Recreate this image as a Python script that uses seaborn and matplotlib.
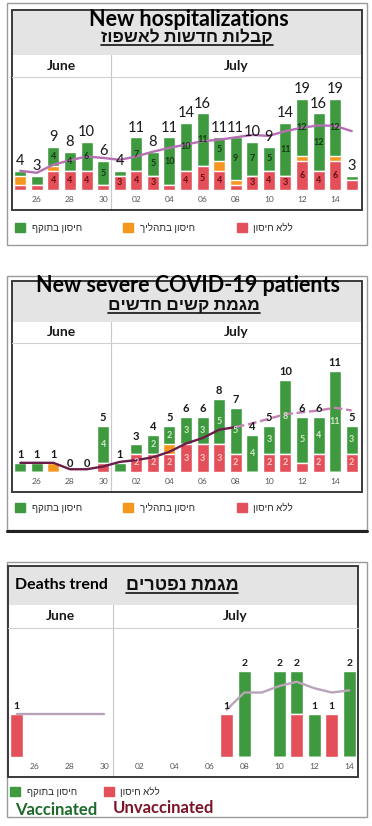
import numpy as np
import pandas as pd
import matplotlib.pyplot as plt
import matplotlib.patches as mpatches
from matplotlib.lines import Line2D
import seaborn as sns

sns.set_theme(style='white')
plt.rcParams['font.family'] = ['Lato', 'Liberation Sans', 'DejaVu Sans']

W, H = 372, 826

GREEN = '#3f9a3f'
ORANGE = '#f5961e'
RED = '#e4505a'

# days: 25 June .. 15 July
june_days = ['25', '26', '27', '28', '29', '30']
july_days = ['01', '02', '03', '04', '05', '06', '07', '08', '09', '10',
             '11', '12', '13', '14', '15']
days = ['06-' + d for d in june_days] + ['07-' + d for d in july_days]
tick_days = ['06-26', '06-28', '06-30', '07-02', '07-04', '07-06',
             '07-08', '07-10', '07-12', '07-14']
tick_labels = ['26', '28', '30', '02', '04', '06', '08', '10', '12', '14']

# new hospitalizations
hosp_vacc = [1, 2, 4, 4, 6, 5, 1, 7, 5, 10, 10, 11, 5, 9, 7, 5, 11, 12, 12, 12, 1]
hosp_partial = [2, 0, 1, 0, 0, 0, 0, 0, 0, 0, 0, 0, 2, 1, 0, 0, 0, 1, 0, 1, 0]
hosp_unvacc = [1, 1, 4, 4, 4, 1, 3, 4, 3, 1, 4, 5, 4, 1, 3, 4, 3, 6, 4, 6, 2]
hosp_trend = [4.0, 3.6, 5.3, 6.2, 7.0, 6.7, 6.3, 7.0, 8.0, 8.8, 9.5, 10.2, 10.5,
              11.0, 11.5, 11.3, 12.3, 13.0, 13.5, 13.4, 12.3]

# new severe patients
sev_vacc = [1, 1, 0, 0, 0, 4, 1, 1, 2, 2, 3, 3, 5, 5, 4, 3, 8, 5, 4, 11, 3]
sev_partial = [0, 0, 1, 0, 0, 0, 0, 0, 0, 1, 0, 0, 0, 0, 0, 0, 0, 0, 0, 0, 0]
sev_unvacc = [0, 0, 0, 0, 0, 1, 0, 2, 2, 2, 3, 3, 3, 2, 0, 2, 2, 1, 2, 0, 2]
sev_trend = [1.0, 1.0, 1.0, 0.3, 0.3, 0.6, 1.1, 1.3, 1.6, 2.2, 3.1, 3.7, 4.6,
             4.9, 5.3, 5.8, 6.3, 6.5, 6.7, 7.0, 6.7]

# deaths (25 June .. 14 July)
death_days = days[:20]
death_vacc = [0, 0, 0, 0, 0, 0, 0, 0, 0, 0, 0, 0, 0, 2, 0, 2, 1, 1, 0, 2]
death_partial = [0] * 20
death_unvacc = [1, 0, 0, 0, 0, 0, 0, 0, 0, 0, 0, 0, 1, 0, 0, 0, 1, 0, 1, 0]
death_trend = [1, 1, 1, 1, 1, 1, np.nan, np.nan, np.nan, np.nan, np.nan, np.nan,
               1.1, 1.5, 1.5, 1.65, 1.75, 1.6, 1.5, 1.55]

legend_labels = ['חיסון בתוקף', 'חיסון בתהליך', 'ללא חיסון']


def rtl(s):
    # matplotlib has no bidi support
    return s[::-1]


def fx(x):
    return x / W


def fy(y):
    return 1 - y / H


fig = plt.figure(figsize=(W / 100, H / 100), dpi=100)
fig.patch.set_facecolor('white')


def rect(l, t, r, b, fc='none', ec='none', lw=1.0):
    fig.add_artist(mpatches.Rectangle((fx(l), fy(b)), (r - l) / W, (b - t) / H,
                                      transform=fig.transFigure, fc=fc, ec=ec, lw=lw))


def hline(l, r, y, color='#d0d0d0', lw=0.8):
    fig.add_artist(Line2D([fx(l), fx(r)], [fy(y), fy(y)], transform=fig.transFigure,
                          color=color, lw=lw))


def panel(box, dlist, vacc, partial, unvacc, trend, ymax, top_fs, top_weight,
          seg_thr, seg_colors, show_zero, line_parts):
    l, r, head_t, ax_t, ax_b, frame_b = box
    ax = fig.add_axes([fx(l), fy(ax_b), (r - l) / W, (ax_b - ax_t) / H])
    df = pd.DataFrame({'day': dlist, 'vacc': vacc, 'partial': partial, 'unvacc': unvacc})
    df['low'] = df['unvacc'] + df['partial']
    df['total'] = df['low'] + df['vacc']
    n = len(df)

    for col, c in [('total', GREEN), ('low', ORANGE), ('unvacc', RED)]:
        sns.barplot(data=df, x='day', y=col, order=dlist, color=c, saturation=1,
                    width=0.72, errorbar=None, ax=ax, zorder=2)

    # trend line
    for start, stop, color, ls in line_parts:
        part = pd.DataFrame({'x': np.arange(start, stop), 'y': trend[start:stop]})
        sns.lineplot(data=part, x='x', y='y', color=color, lw=1.7, ls=ls, ax=ax, zorder=3)

    labels = [str(t) if (t > 0 or show_zero) else '' for t in df['total']]
    ax.bar_label(ax.containers[0], labels=labels, padding=2, fontsize=top_fs,
                 fontweight=top_weight, color='#1a1a1a', zorder=5)

    for i, row in df.iterrows():
        if row['vacc'] >= seg_thr:
            ax.text(i, row['low'] + row['vacc'] / 2, str(row['vacc']), ha='center',
                    va='center', fontsize=6.5, fontweight='bold', color=seg_colors[0], zorder=4)
        if row['unvacc'] >= seg_thr:
            ax.text(i, row['unvacc'] / 2, str(row['unvacc']), ha='center',
                    va='center', fontsize=6.5, fontweight='bold', color=seg_colors[1], zorder=4)

    ax.set_xlim(-0.5, n - 0.5)
    ax.set_ylim(0, ymax)
    ax.set_xticks([dlist.index(d) for d in tick_days])
    ax.set_xticklabels(tick_labels, fontsize=6, color='#555555')
    ax.tick_params(axis='x', length=0, pad=4)
    ax.set_yticks([])
    ax.set_xlabel('')
    ax.set_ylabel('')
    for s in ax.spines.values():
        s.set_visible(False)
    ax.set_facecolor('none')

    ax_h = ax_b - ax_t
    ax.axvline(5.5, ymin=-(frame_b - ax_b) / ax_h, ymax=1 + (ax_t - head_t) / ax_h,
               color='#c8c8c8', lw=0.8, clip_on=False, zorder=1)
    tr = ax.get_xaxis_transform()
    mid = 1 + (ax_t - head_t) / 2 / ax_h
    ax.text(2.5, mid, 'June', transform=tr, ha='center', va='center',
            fontsize=10, fontweight='bold', color='#1a1a1a')
    ax.text((5.5 + n - 0.5) / 2, mid, 'July', transform=tr, ha='center', va='center',
            fontsize=10, fontweight='bold', color='#1a1a1a')
    hline(l, r, ax_t)
    return ax


def legend(x, y, handles, labels, colspace):
    fig.legend(handles=handles, labels=labels, loc='center left',
               bbox_to_anchor=(fx(x), fy(y)), ncol=len(handles), frameon=False,
               fontsize=7, handlelength=1.0, handleheight=1.0, handletextpad=0.7,
               columnspacing=colspace, borderaxespad=0, borderpad=0)


patches = [mpatches.Patch(color=GREEN), mpatches.Patch(color=ORANGE), mpatches.Patch(color=RED)]
underlined = []

# ---- panel 1 ----
rect(7, 3, 367, 245, ec='#9a9a9a', lw=1.0)
rect(12, 10, 362, 55, fc='#e4e4e4')
rect(12, 10, 362, 210, ec='#3a3a3a', lw=1.4)
fig.text(fx(189), fy(19), 'New hospitalizations', ha='center', va='center',
         fontsize=15.5, fontweight='bold', color='black')
underlined.append(fig.text(fx(187), fy(37), rtl('קבלות חדשות לאשפוז'), ha='center',
                           va='center', fontsize=12.5, fontweight='bold', color='#111111'))
panel((12, 360, 55, 77, 190, 210), days, hosp_vacc, hosp_partial, hosp_unvacc,
      hosp_trend, 23.6, 10.5, 'normal', 3, ('#173a17', '#6e0d12'), False,
      [(0, 21, '#b56fb3', '-')])
legend(15, 228, patches, [rtl(s) for s in legend_labels], 4.3)

# ---- panel 2 ----
rect(7, 276, 367, 530, ec='#9a9a9a', lw=1.0)
hline(7, 367, 531, color='#222222', lw=2.2)
rect(12, 281, 362, 322, fc='#e4e4e4')
rect(12, 281, 362, 492, ec='#3a3a3a', lw=1.4)
fig.text(fx(188), fy(285), 'New severe COVID-19 patients', ha='center', va='center',
         fontsize=15.5, fontweight='bold', color='black')
underlined.append(fig.text(fx(184), fy(305), rtl('מגמת קשים חדשים'), ha='center',
                           va='center', fontsize=12.5, fontweight='bold', color='#111111'))
panel((12, 360, 322, 343, 472, 492), days, sev_vacc, sev_partial, sev_unvacc,
      sev_trend, 14.05, 8, 'bold', 2, ('#cfe8c8', '#f7cccc'), True,
      [(0, 14, '#6a1d48', '-'), (13, 21, '#c77fb7', '--')])
legend(15, 508, patches, [rtl(s) for s in legend_labels], 4.3)

# ---- panel 3 ----
rect(7, 562, 367, 817, ec='#9a9a9a', lw=1.0)
rect(8, 566, 358, 605, fc='#e4e4e4')
rect(8, 566, 358, 777, ec='#3a3a3a', lw=1.4)
fig.text(fx(15), fy(585), 'Deaths trend', ha='left', va='center',
         fontsize=11.5, fontweight='bold', color='black')
underlined.append(fig.text(fx(182), fy(585), rtl('מגמת נפטרים'), ha='center',
                           va='center', fontsize=13, fontweight='bold', color='#111111'))
panel((8, 358, 605, 628, 757, 777), death_days, death_vacc, death_partial, death_unvacc,
      death_trend, 3.0, 7.5, 'bold', 99, ('white', 'white'), False,
      [(0, 6, '#b9a3b8', '-'), (12, 20, '#b9a3b8', '-')])
legend(10, 792, [patches[0], patches[2]], [rtl(legend_labels[0]), rtl(legend_labels[2])], 2.8)
fig.text(fx(15), fy(810), 'Vaccinated', ha='left', va='center', fontsize=12,
         fontweight='bold', color='#1d6b2b')
fig.text(fx(113), fy(808), 'Unvaccinated', ha='left', va='center', fontsize=12,
         fontweight='bold', color='#7d1426')

# underline the Hebrew titles
fig.canvas.draw()
renderer = fig.canvas.get_renderer()
for t in underlined:
    bb = t.get_window_extent(renderer).transformed(fig.transFigure.inverted())
    fig.add_artist(Line2D([bb.x0, bb.x1], [bb.y0 + 0.5 / H, bb.y0 + 0.5 / H],
                          transform=fig.transFigure, color='#111111', lw=1.2))

fig.savefig('out.png', dpi=100)
